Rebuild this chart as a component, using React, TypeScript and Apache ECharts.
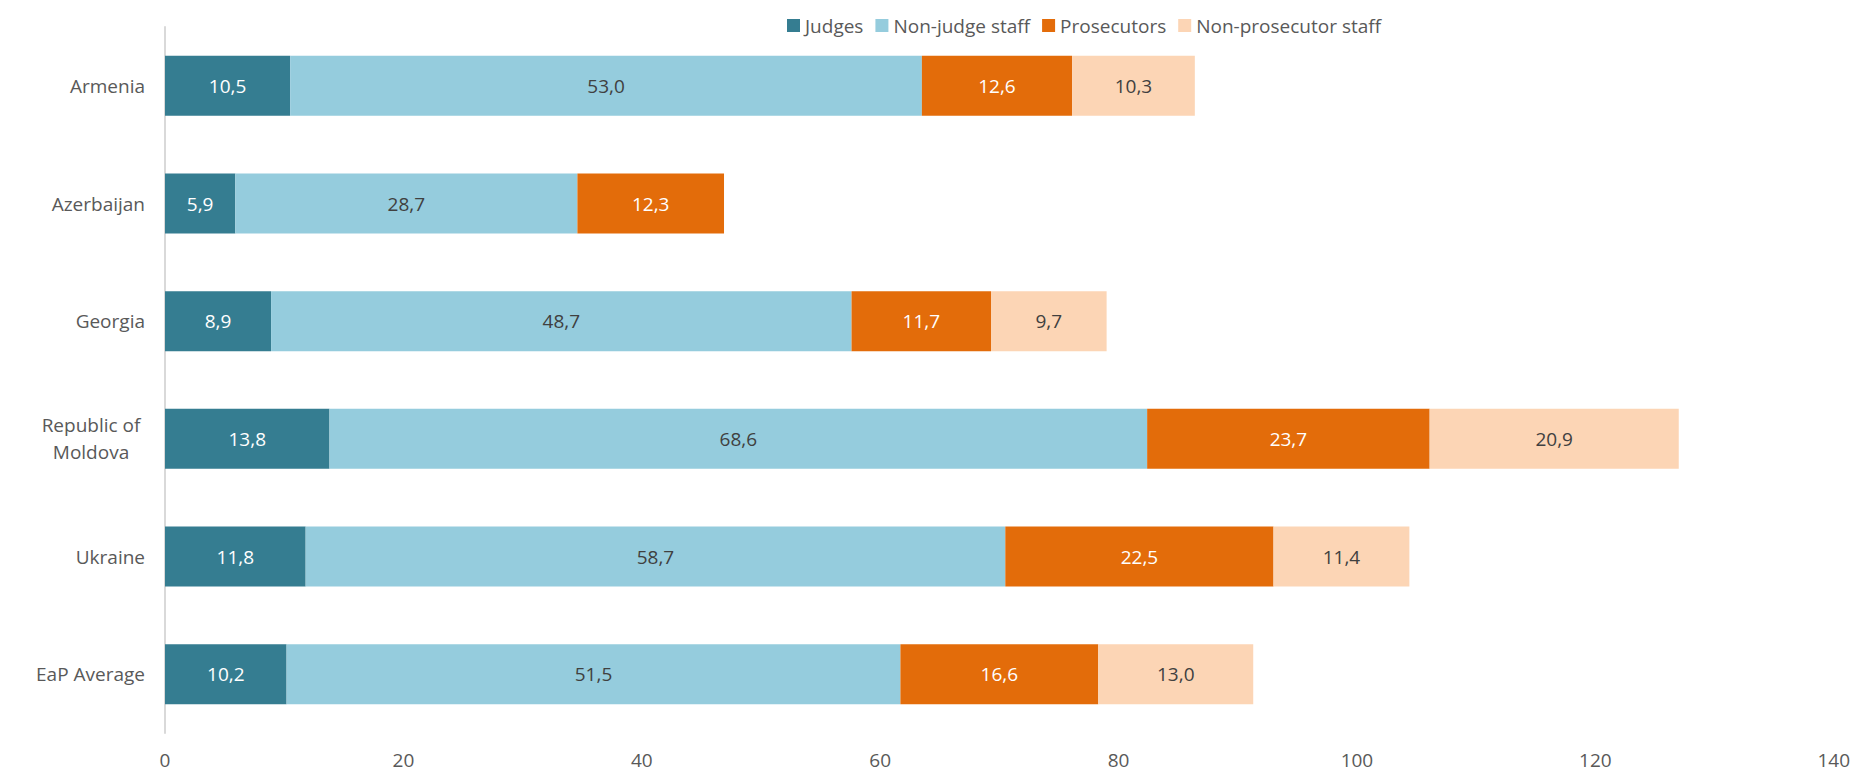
import React, { useEffect, useRef } from "react";
import * as echarts from "echarts";

const categories = ["Armenia", "Azerbaijan", "Georgia", "Republic of\nMoldova", "Ukraine", "EaP Average"];
const judges = [10.5, 5.9, 8.9, 13.8, 11.8, 10.2];
const nonJudgeStaff = [53.0, 28.7, 48.7, 68.6, 58.7, 51.5];
const prosecutors = [12.6, 12.3, 11.7, 23.7, 22.5, 16.6];
const nonProsecutorStaff = [10.3, null, 9.7, 20.9, 11.4, 13.0];
const xTicks = { min: 0, max: 140, interval: 20 };

const FONT = "'Open Sans', 'Noto Sans', sans-serif";
const FS = 19;

export default function App() {
  const ref = useRef<HTMLDivElement>(null);
  useEffect(() => {
    const chart = echarts.init(ref.current!, null, { renderer: "svg" });
    const mk = (name: string, data: (number | null)[], color: string, labelColor: string) => ({
      name,
      type: "bar",
      stack: "total",
      data,
      barWidth: "51%",
      itemStyle: { color },
      label: {
        show: true,
        position: "inside",
        color: labelColor,
        fontSize: FS,
        fontFamily: FONT,
        formatter: (p: any) => (p.value == null ? "" : Number(p.value).toFixed(1).replace(".", ",")),
      },
    });
    chart.setOption({
      animation: false,
      textStyle: { fontFamily: FONT },
      legend: {
        top: 3,
        left: 774,
        itemWidth: 13,
        itemHeight: 13,
        itemGap: 12,
        icon: "rect",
        textStyle: { fontSize: FS, color: "#595959", fontFamily: FONT },
        data: ["Judges", "Non-judge staff", "Prosecutors", "Non-prosecutor staff"],
      },
      grid: { left: 157, right: 16, top: 19, bottom: 43, containLabel: false },
      xAxis: {
        type: "value",
        min: xTicks.min,
        max: xTicks.max,
        interval: xTicks.interval,
        axisLine: { show: false },
        axisTick: { show: false },
        splitLine: { show: false },
        axisLabel: { fontSize: FS, color: "#595959", margin: 17, fontFamily: FONT },
      },
      yAxis: {
        type: "category",
        data: categories,
        inverse: true,
        axisLine: { show: true, lineStyle: { color: "#d9d9d9", width: 2 } },
        axisTick: { show: false },
        axisLabel: {
          fontSize: FS,
          color: "#595959",
          margin: 20,
          fontFamily: FONT,
          lineHeight: 27,
          formatter: (v: string) =>
            v.indexOf("\n") >= 0 ? v.split("\n").map((s) => "{c|" + s + "}").join("\n") : v,
          rich: { c: { width: 108, align: "center", fontSize: FS, color: "#595959", lineHeight: 27, fontFamily: FONT } },
        },
      },
      series: [
        mk("Judges", judges, "#357D91", "#ffffff"),
        mk("Non-judge staff", nonJudgeStaff, "#95CCDD", "#404040"),
        mk("Prosecutors", prosecutors, "#E36C0A", "#ffffff"),
        mk("Non-prosecutor staff", nonProsecutorStaff, "#FCD5B5", "#404040"),
      ],
    });
    return () => chart.dispose();
  }, []);
  return <div ref={ref} style={{ width: 1845, height: 768 }} />;
}
